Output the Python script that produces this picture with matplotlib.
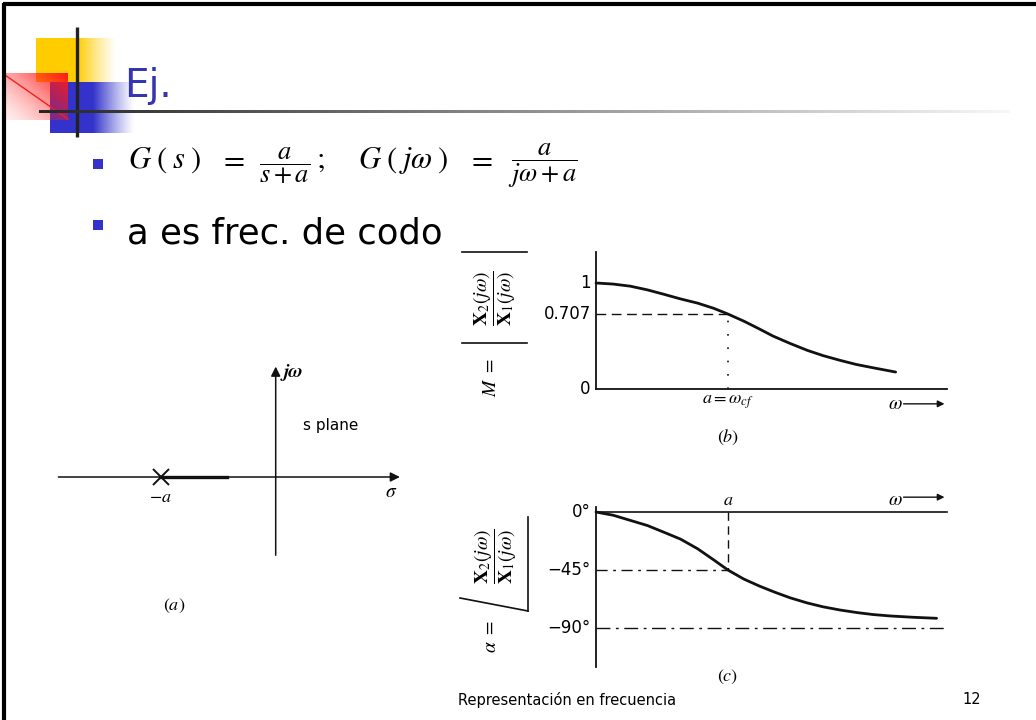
import numpy as np
import matplotlib.pyplot as plt

plt.rcParams['mathtext.fontset'] = 'stix'
plt.rcParams['font.family'] = ['DejaVu Sans']

W, H = 1036, 720

# first-order low-pass a/(jw+a); frequency given in units of the corner a
pole = -1.0
corner = 1.0
half_power = 0.707

mag_w = [0, 0.13, 0.26, 0.39, 0.51, 0.64, 0.77, 0.89, 1.0, 1.12, 1.24,
         1.34, 1.47, 1.60, 1.72, 1.85, 1.97, 2.10, 2.27]
mag = [1.0, 0.99, 0.97, 0.935, 0.895, 0.85, 0.81, 0.762, 0.707, 0.64, 0.565,
       0.50, 0.43, 0.365, 0.315, 0.27, 0.232, 0.20, 0.16]
mag_ticks = [1, 0.707, 0]
mag_labels = ['1', '0.707', '0']

phase_w = [0, 0.13, 0.26, 0.39, 0.51, 0.64, 0.77, 0.89, 1.0, 1.12, 1.24,
           1.35, 1.47, 1.60, 1.72, 1.85, 1.98, 2.10, 2.23, 2.40, 2.58]
phase = [0, -2.5, -6.5, -10.5, -15.5, -21, -28.5, -37, -45, -52, -57.5,
         -62, -66.5, -70.5, -73.5, -76, -78, -79.5, -80.6, -81.6, -82.4]
phase_ticks = [0, -45, -90]
phase_labels = ['0°', '−45°', '−90°']

INK = '#111111'

fig = plt.figure(figsize=(W / 100, H / 100), dpi=100)

# page layer in pixel units
ax0 = fig.add_axes([0, 0, 1, 1])
ax0.set_xlim(0, W)
ax0.set_ylim(H, 0)
ax0.axis('off')


def px_axes(x0, y0, x1, y1):
    a = fig.add_axes([x0 / W, 1 - y1 / H, (x1 - x0) / W, (y1 - y0) / H])
    a.axis('off')
    a.patch.set_alpha(0)
    return a


def fade(color, n=64):
    rgb = plt.matplotlib.colors.to_rgb(color)
    img = np.ones((1, n, 4))
    img[..., :3] = rgb
    img[..., 3] = np.linspace(1, 0, n) ** 1.2
    return img


# slide frame
ax0.plot([3, W], [4, 4], color='black', lw=3, solid_capstyle='butt', zorder=10)
ax0.plot([4, 4], [3, H], color='black', lw=3, solid_capstyle='butt', zorder=10)

# title ornament
ax0.fill_between([36, 77], 38, 82, color='#ffcc00', lw=0, zorder=1)
ax0.imshow(fade('#ffcc00'), extent=(77, 117, 82, 38), aspect='auto', zorder=1)
ax0.fill_between([50, 93], 82, 133, color='#3333cc', lw=0, zorder=2)
ax0.imshow(fade('#3333cc'), extent=(93, 135, 133, 82), aspect='auto', zorder=2)
u, v = np.meshgrid(np.linspace(0, 1, 64), np.linspace(0, 1, 48))
red = np.ones((48, 64, 4))
red[..., 1] = 0.1
red[..., 2] = 0.1
red[..., 3] = np.clip(0.08 + 0.92 * (0.55 * u + 0.45 * (1 - v)) ** 1.4, 0, 1)
ax0.imshow(red, extent=(5, 68, 120, 73), aspect='auto', zorder=3)
ax0.plot([5, 68], [75, 119], color='#ee2020', lw=1, zorder=3)
ax0.plot([77, 77], [27, 137], color='#222222', lw=2.4, solid_capstyle='butt', zorder=4)
grad = np.linspace(0.15, 0.97, 256)
line_img = np.dstack([grad, grad, grad])
ax0.imshow(np.repeat(line_img, 2, axis=0), extent=(39, 1010, 113.5, 110.5),
           aspect='auto', zorder=4)
ax0.set_xlim(0, W)
ax0.set_ylim(H, 0)

ax0.text(124, 97, 'Ej.', fontsize=28, color='#3535b0', va='baseline')

# bullets
for y in (164, 225):
    ax0.fill_between([93, 103], y - 5, y + 5, color='#3333cc', lw=0)

# transfer function, set piece by piece
eq = dict(fontsize=22, ha='center', va='baseline')
fr = dict(fontsize=19, ha='center', va='center')
ax0.text(165, 168, r'$G\;(\;s\;)$', **eq)
ax0.text(232, 168, r'$=$', **eq)
ax0.text(285, 166, r'$\dfrac{a}{s+a}$', **fr)
ax0.text(320, 168, r'$;$', **eq)
ax0.text(403, 168, r'$G\;(\;j\omega\;)$', **eq)
ax0.text(480, 168, r'$=$', **eq)
ax0.text(543, 166, r'$\dfrac{a}{j\omega+a}$', **fr)

ax0.text(127, 243, 'a es frec. de codo', fontsize=25.5, va='baseline', ha='left')

# footer
ax0.text(567, 700, 'Representación en frecuencia', fontsize=10.5, ha='center', va='center')
ax0.text(972, 700, '12', fontsize=10.5, ha='center', va='center')

# (a) s plane
sx = 115.0
ox, oy = 275.7, 477.0
axa = px_axes(40, 355, 420, 620)
axa.set_xlim((40 - ox) / sx, (420 - ox) / sx)
axa.set_ylim((oy - 620) / sx, (oy - 355) / sx)
axa.annotate('', xy=(1.08, 0), xytext=(-1.89, 0),
             arrowprops=dict(arrowstyle='-|>', lw=1.1, color=INK, mutation_scale=14,
                             shrinkA=0, shrinkB=0))
axa.annotate('', xy=(0, 0.96), xytext=(0, -0.68),
             arrowprops=dict(arrowstyle='-|>', lw=1.1, color=INK, mutation_scale=14,
                             shrinkA=0, shrinkB=0))
axa.plot([pole, -0.42], [0, 0], color=INK, lw=2.4)
axa.plot([pole], [0], marker='x', ms=11, mew=1.4, color=INK)
axa.text(pole, -0.17, r'$-a$', fontsize=13, ha='center', va='center')
axa.text(1.0, -0.13, r'$\sigma$', fontsize=14, ha='center', va='center')
axa.text(0.07, 0.91, 'jω', family='STIXGeneral', style='italic', weight='bold',
         fontsize=14, ha='left', va='center')
axa.text(0.24, 0.45, 's plane', fontsize=11, ha='left', va='center')
axa.text(-0.88, -1.12, r'$(a)$', fontsize=13, ha='center', va='center')

# shared frequency scale for (b) and (c)
fx0, fsx = 596.0, 132.0
w_end = (947 - fx0) / fsx

# (b) magnitude
my0, msy = 389.0, 106.0
axb = px_axes(560, 240, 960, 455)
axb.set_xlim((560 - fx0) / fsx, (960 - fx0) / fsx)
axb.set_ylim((my0 - 455) / msy, (my0 - 240) / msy)
axb.plot([0, 0], [0, 1.29], color=INK, lw=1.3)
axb.plot([0, w_end], [0, 0], color=INK, lw=1.3)
axb.plot(mag_w, mag, color=INK, lw=2.0, solid_capstyle='round')
axb.plot([0, corner], [half_power, half_power], color=INK, lw=1.0, dashes=(7, 4))
axb.plot([corner, corner], [0, half_power], color=INK, lw=1.2, dashes=(1, 7))
for t, lab in zip(mag_ticks, mag_labels):
    axb.text(-0.04, t, lab, fontsize=12, ha='right', va='center')
axb.text(corner, -0.12, r'$a = \omega_{cf}$', fontsize=13, ha='center', va='center')
axb.text(2.265, -0.14, r'$\omega$', fontsize=14, ha='center', va='center')
axb.annotate('', xy=(2.64, -0.14), xytext=(2.33, -0.14),
             arrowprops=dict(arrowstyle='-|>', lw=1.0, color=INK, mutation_scale=10,
                             shrinkA=0, shrinkB=0))
axb.text(corner, -0.46, r'$(b)$', fontsize=13, ha='center', va='center')

# (c) phase
py0, psy = 512.0, 1.29
axc = px_axes(560, 480, 960, 690)
axc.set_xlim((560 - fx0) / fsx, (960 - fx0) / fsx)
axc.set_ylim((py0 - 690) / psy, (py0 - 480) / psy)
axc.plot([0, 0], [4, -120], color=INK, lw=1.3)
axc.plot([0, w_end], [0, 0], color=INK, lw=1.2)
axc.plot(phase_w, phase, color=INK, lw=2.0, solid_capstyle='round')
axc.plot([corner, corner], [0, -45], color=INK, lw=1.0, dashes=(6, 4))
axc.plot([0, corner], [-45, -45], color=INK, lw=1.0, dashes=(8, 4, 2, 4))
axc.plot([0, w_end], [-90, -90], color=INK, lw=1.0, dashes=(10, 4, 2, 4))
for t, lab in zip(phase_ticks, phase_labels):
    axc.text(-0.04, t, lab, fontsize=12, ha='right', va='center')
axc.text(corner, 9.5, r'$a$', fontsize=13, ha='center', va='center')
axc.text(2.27, 9.5, r'$\omega$', fontsize=14, ha='center', va='center')
axc.annotate('', xy=(2.64, 11.5), xytext=(2.33, 11.5),
             arrowprops=dict(arrowstyle='-|>', lw=1.0, color=INK, mutation_scale=10,
                             shrinkA=0, shrinkB=0))
axc.text(corner, -128, r'$(c)$', fontsize=13, ha='center', va='center')

# rotated ordinate captions
ratio = r'$\dfrac{\mathbf{X}_2(j\omega)}{\mathbf{X}_1(j\omega)}$'
ax0.text(495, 298, ratio, fontsize=14, rotation=90, ha='center', va='center')
ax0.plot([462, 527], [252, 252], color=INK, lw=1.2)
ax0.plot([462, 527], [343, 343], color=INK, lw=1.2)
ax0.text(490, 378, r'$M\ =$', fontsize=14, rotation=90, ha='center', va='center')

ax0.text(496, 556, ratio, fontsize=14, rotation=90, ha='center', va='center')
ax0.text(490, 637, r'$\alpha\ =$', fontsize=14, rotation=90, ha='center', va='center')
ax0.plot([460, 528], [598, 611], color=INK, lw=1.2)
ax0.plot([528, 528], [517, 611], color=INK, lw=1.2)

fig.savefig('out.png', dpi=100)
